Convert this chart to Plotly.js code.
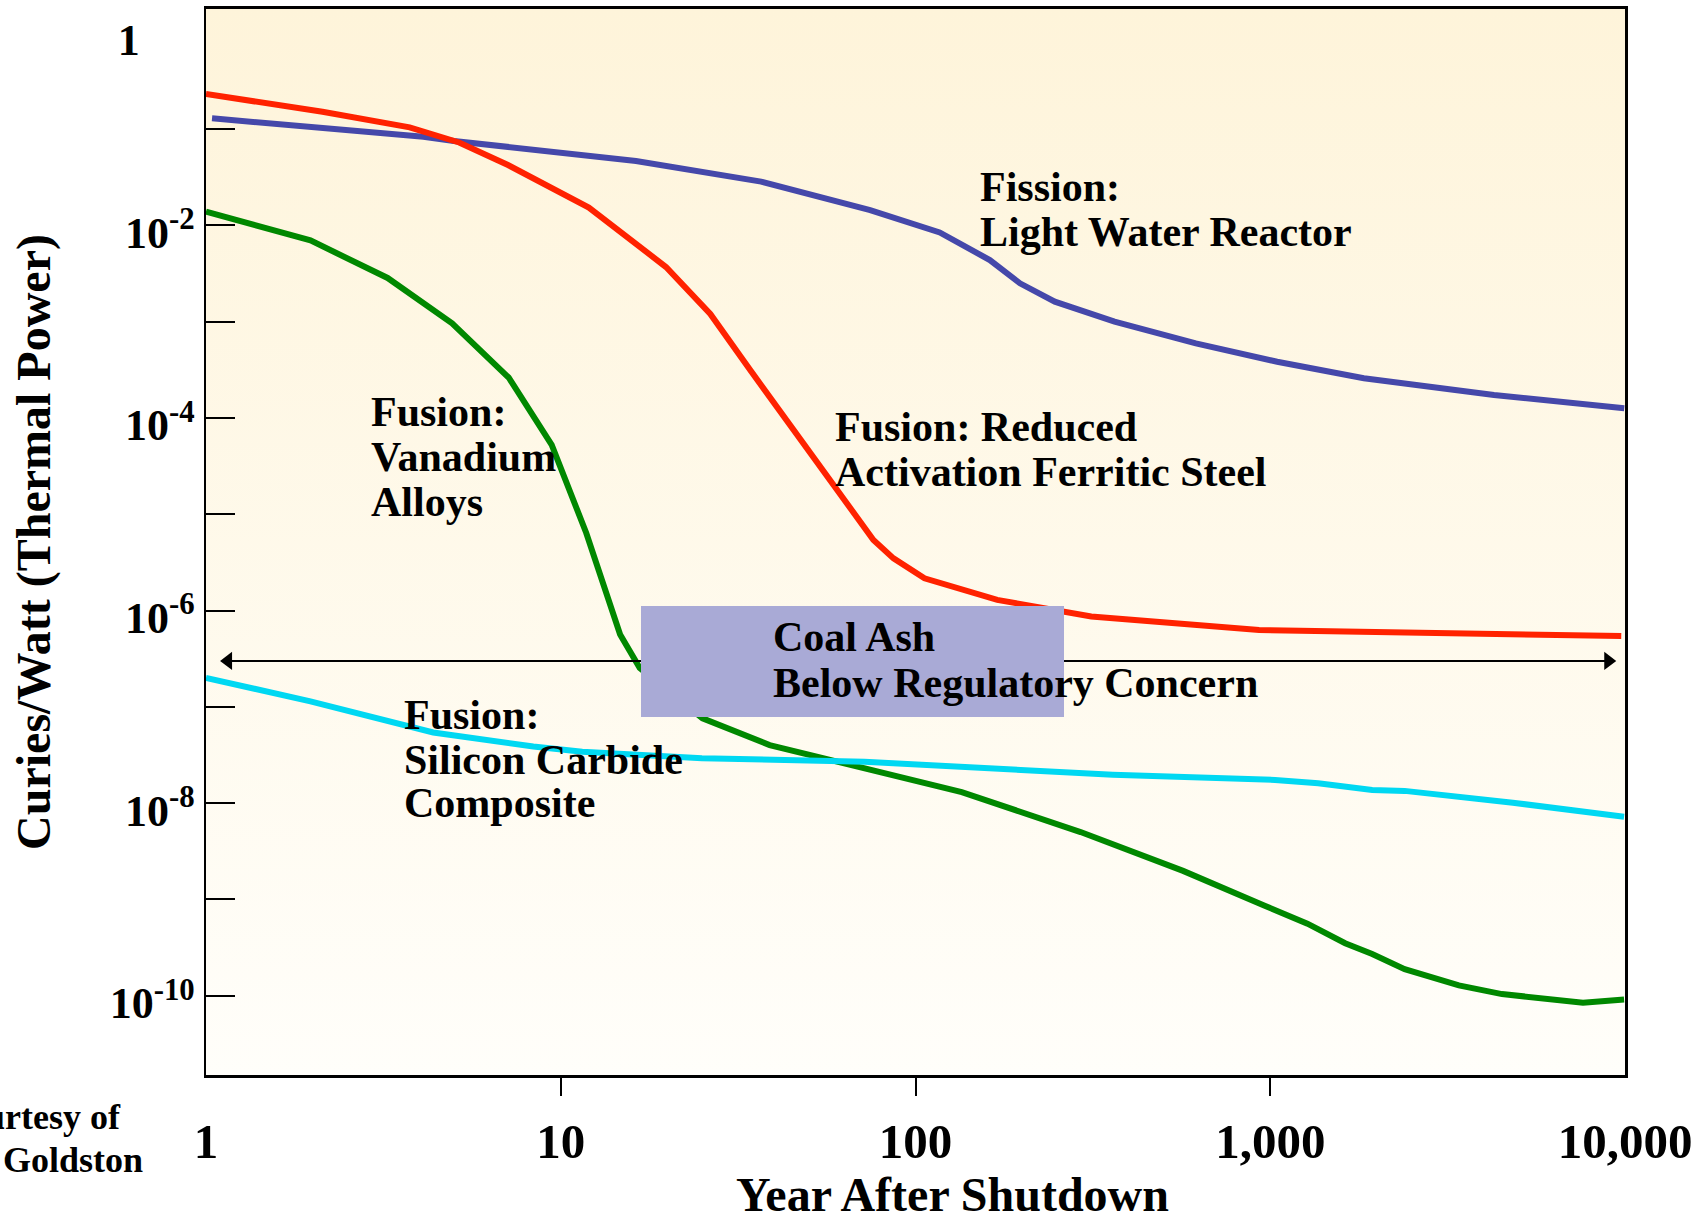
<!DOCTYPE html>
<html>
<head>
<meta charset="utf-8">
<script src="https://cdn.plot.ly/plotly-3.0.1.min.js"></script>
<style>
html,body{margin:0;padding:0;background:#ffffff;}
#chart{width:1694px;height:1217px;}
</style>
</head>
<body>
<div id="chart"></div>
<script>
// ---- Data ----
const lwrYears = [1.04, 2.5, 4.1, 5.0, 16.3, 36.7, 74.5, 117, 162, 197, 247, 364, 617, 1046, 1836, 4273, 9950];
const lwrActivity = [0.129, 0.0977, 0.0832, 0.0751, 0.0465, 0.0284, 0.0144, 0.00842, 0.00436, 0.0025, 0.00161, 0.000998, 0.000595, 0.000383, 0.000258, 0.000173, 0.000126];

const rafsYears = [1.0, 2.13, 3.75, 5.17, 7.1, 12.0, 19.8, 26.4, 34.2, 45.3, 58.7, 76.1, 86.7, 106, 170, 313, 930, 9760];
const rafsActivity = [0.231, 0.151, 0.104, 0.0724, 0.0423, 0.0153, 0.00369, 0.0012, 3.14e-4, 7.49e-5, 1.93e-5, 5.4e-6, 3.48e-6, 2.16e-6, 1.29e-6, 8.67e-7, 6.27e-7, 5.43e-7];

const vanadiumYears = [1.0, 1.97, 3.25, 4.94, 7.13, 9.43, 11.8, 14.7, 16.7, 25.1, 38.8, 135, 292, 568, 961, 1273, 1626, 1938, 2393, 3401, 4500, 7614, 9940];
const vanadiumActivity = [0.0139, 0.00697, 0.00284, 0.00096, 2.63e-4, 5.25e-5, 6.38e-6, 5.65e-7, 2.53e-7, 7.6e-8, 4.01e-8, 1.3e-8, 5.01e-9, 1.98e-9, 8.67e-10, 5.6e-10, 3.51e-10, 2.71e-10, 1.89e-10, 1.28e-10, 1.04e-10, 8.48e-11, 9.16e-11];

const sicYears = [1.0, 1.97, 4.37, 8.37, 11.5, 25.0, 71.8, 125, 360, 1032, 1365, 1938, 2393, 4828, 9940];
const sicActivity = [2.0e-7, 1.14e-7, 5.41e-8, 3.87e-8, 3.42e-8, 2.92e-8, 2.69e-8, 2.43e-8, 1.97e-8, 1.74e-8, 1.61e-8, 1.37e-8, 1.34e-8, 1.01e-8, 7.21e-9];

const coalAshLevel = 3.0e-7;
const coalAshYears = [1.154, 8970];

const xTickVals = [1, 10, 100, 1000, 10000];
const xTickText = ['1', '10', '100', '1,000', '10,000'];
const xMarkVals = [10, 100, 1000];
const yTickVals = [1, 1e-2, 1e-4, 1e-6, 1e-8, 1e-10];
const yTickText = ['1\u00A0\u00A0\u00A0\u00A0\u00A0', '10<sup>-2</sup>', '10<sup>-4</sup>', '10<sup>-6</sup>', '10<sup>-8</sup>', '10<sup>-10</sup>'];
const yMarkVals = [1e-1, 1e-2, 1e-3, 1e-4, 1e-5, 1e-6, 1e-7, 1e-8, 1e-9, 1e-10];

const xTitle = 'Year After Shutdown';
const yTitle = 'Curies/Watt (Thermal Power)';

// ---- Layout helpers ----
const W = 1694, H = 1217;
const M = {l: 206, r: 69, t: 9, b: 142};
const PW = W - M.l - M.r, PH = H - M.t - M.b;
const px = v => (v - M.l) / PW;
const py = v => (H - M.b - v) / PH;

const FONT = 'Liberation Serif, Times New Roman, Times, serif';
const xRange = [0, 4];
const yRange = [-10.823, 0.246];

const lineW = 6;
const traces = [
  {x: lwrYears, y: lwrActivity, mode: 'lines', name: 'Fission: Light Water Reactor', line: {color: '#4548AA', width: lineW}},
  {x: rafsYears, y: rafsActivity, mode: 'lines', name: 'Fusion: Reduced Activation Ferritic Steel', line: {color: '#FF2200', width: lineW}},
  {x: vanadiumYears, y: vanadiumActivity, mode: 'lines', name: 'Fusion: Vanadium Alloys', line: {color: '#008800', width: lineW}},
  {x: sicYears, y: sicActivity, mode: 'lines', name: 'Fusion: Silicon Carbide Composite', line: {color: '#00D8F2', width: lineW}},
  {x: coalAshYears, y: coalAshYears.map(() => coalAshLevel), xaxis: 'x2', yaxis: 'y2', mode: 'lines+markers', name: 'Coal Ash',
   line: {color: '#000000', width: 2}, marker: {symbol: ['triangle-left', 'triangle-right'], size: 16, color: '#000000'}}
];

const gradSvg = '<svg xmlns="http://www.w3.org/2000/svg" width="100" height="100" viewBox="0 0 100 100" preserveAspectRatio="none">' +
  '<defs><linearGradient id="g" x1="0" y1="0" x2="0" y2="1">' +
  '<stop offset="0" stop-color="#FEF4DA"/><stop offset="1" stop-color="#FFFEFA"/></linearGradient></defs>' +
  '<rect x="0" y="0" width="100" height="100" fill="url(#g)"/></svg>';
const gradSrc = 'data:image/svg+xml;base64,' + btoa(gradSvg);

const labels = [
  ['Fission:', 978, 187],
  ['Light Water Reactor', 978, 232],
  ['Fusion: Reduced', 833, 427],
  ['Activation Ferritic Steel', 833, 472],
  ['Fusion:', 369, 412],
  ['Vanadium', 369, 457],
  ['Alloys', 369, 502],
  ['Fusion:', 402, 715],
  ['Silicon Carbide', 402, 760],
  ['Composite', 402, 803],
  ['Coal Ash', 771, 637],
  ['Below Regulatory Concern', 771, 683]
];
const annotations = labels.map(([t, x, y]) => ({
  text: t, xref: 'paper', yref: 'paper', x: px(x), y: py(y), xanchor: 'left', yanchor: 'middle',
  showarrow: false, font: {family: FONT, size: 42, color: '#000', weight: 'bold'}
}));
annotations.push({text: 'Courtesy of', xref: 'paper', yref: 'paper', x: px(123), y: py(1117), xanchor: 'right', yanchor: 'middle',
  showarrow: false, font: {family: FONT, size: 36, color: '#000', weight: 'bold'}});
annotations.push({text: 'R. Goldston', xref: 'paper', yref: 'paper', x: px(145), y: py(1160), xanchor: 'right', yanchor: 'middle',
  showarrow: false, font: {family: FONT, size: 36, color: '#000', weight: 'bold'}});
// x-axis title, placed where the reference draws it (off-centre)
annotations.push({text: xTitle, xref: 'paper', yref: 'paper', x: px(952), y: py(1194), xanchor: 'center', yanchor: 'middle',
  showarrow: false, font: {family: FONT, size: 48, color: '#000', weight: 'bold'}});

const layout = {
  width: W, height: H,
  margin: M,
  paper_bgcolor: '#ffffff',
  plot_bgcolor: 'rgba(0,0,0,0)',
  showlegend: false,
  hovermode: false,
  font: {family: FONT, color: '#000', weight: 'bold'},
  images: [{source: gradSrc, xref: 'paper', yref: 'paper', x: 0, y: 1, sizex: 1, sizey: 1,
            sizing: 'stretch', xanchor: 'left', yanchor: 'top', layer: 'below'}],
  xaxis: {
    type: 'log', range: xRange, tickvals: xTickVals, ticktext: xTickText,
    ticks: '', showgrid: false, zeroline: false,
    showline: true, mirror: true, linecolor: '#000', linewidth: 3,
    tickfont: {family: FONT, size: 49, color: '#000', weight: 'bold'},
    ticklabelstandoff: 21, ticklabeloverflow: 'allow',
    automargin: false
  },
  xaxis2: {
    type: 'log', range: xRange, overlaying: 'x', anchor: 'y', side: 'bottom',
    tickvals: xMarkVals, ticks: 'outside', ticklen: 20, tickwidth: 2, tickcolor: '#000',
    showticklabels: false, showgrid: false, zeroline: false, showline: false, automargin: false
  },
  yaxis: {
    type: 'log', range: yRange, tickvals: yTickVals, ticktext: yTickText,
    ticks: '', showgrid: false, zeroline: false,
    showline: true, mirror: true, linecolor: '#000', linewidth: 2.5,
    tickfont: {family: FONT, size: 44, color: '#000', weight: 'bold'},
    ticklabelshift: 7, ticklabelstandoff: 0,
    title: {text: yTitle, font: {family: FONT, size: 48, color: '#000', weight: 'bold'}, standoff: 44},
    automargin: false
  },
  yaxis2: {
    type: 'log', range: yRange, overlaying: 'y', anchor: 'x', side: 'left',
    tickvals: yMarkVals, ticks: 'inside', ticklen: 29, tickwidth: 2, tickcolor: '#000',
    showticklabels: false, showgrid: false, zeroline: false, showline: false, automargin: false
  },
  shapes: [{
    type: 'rect', xref: 'paper', yref: 'paper', layer: 'above',
    x0: px(641), x1: px(1064), y0: py(717), y1: py(606),
    fillcolor: '#A9AAD6', line: {width: 0}
  }],
  annotations: annotations
};

Plotly.newPlot('chart', traces, layout, {staticPlot: true, displayModeBar: false});
</script>
</body>
</html>
